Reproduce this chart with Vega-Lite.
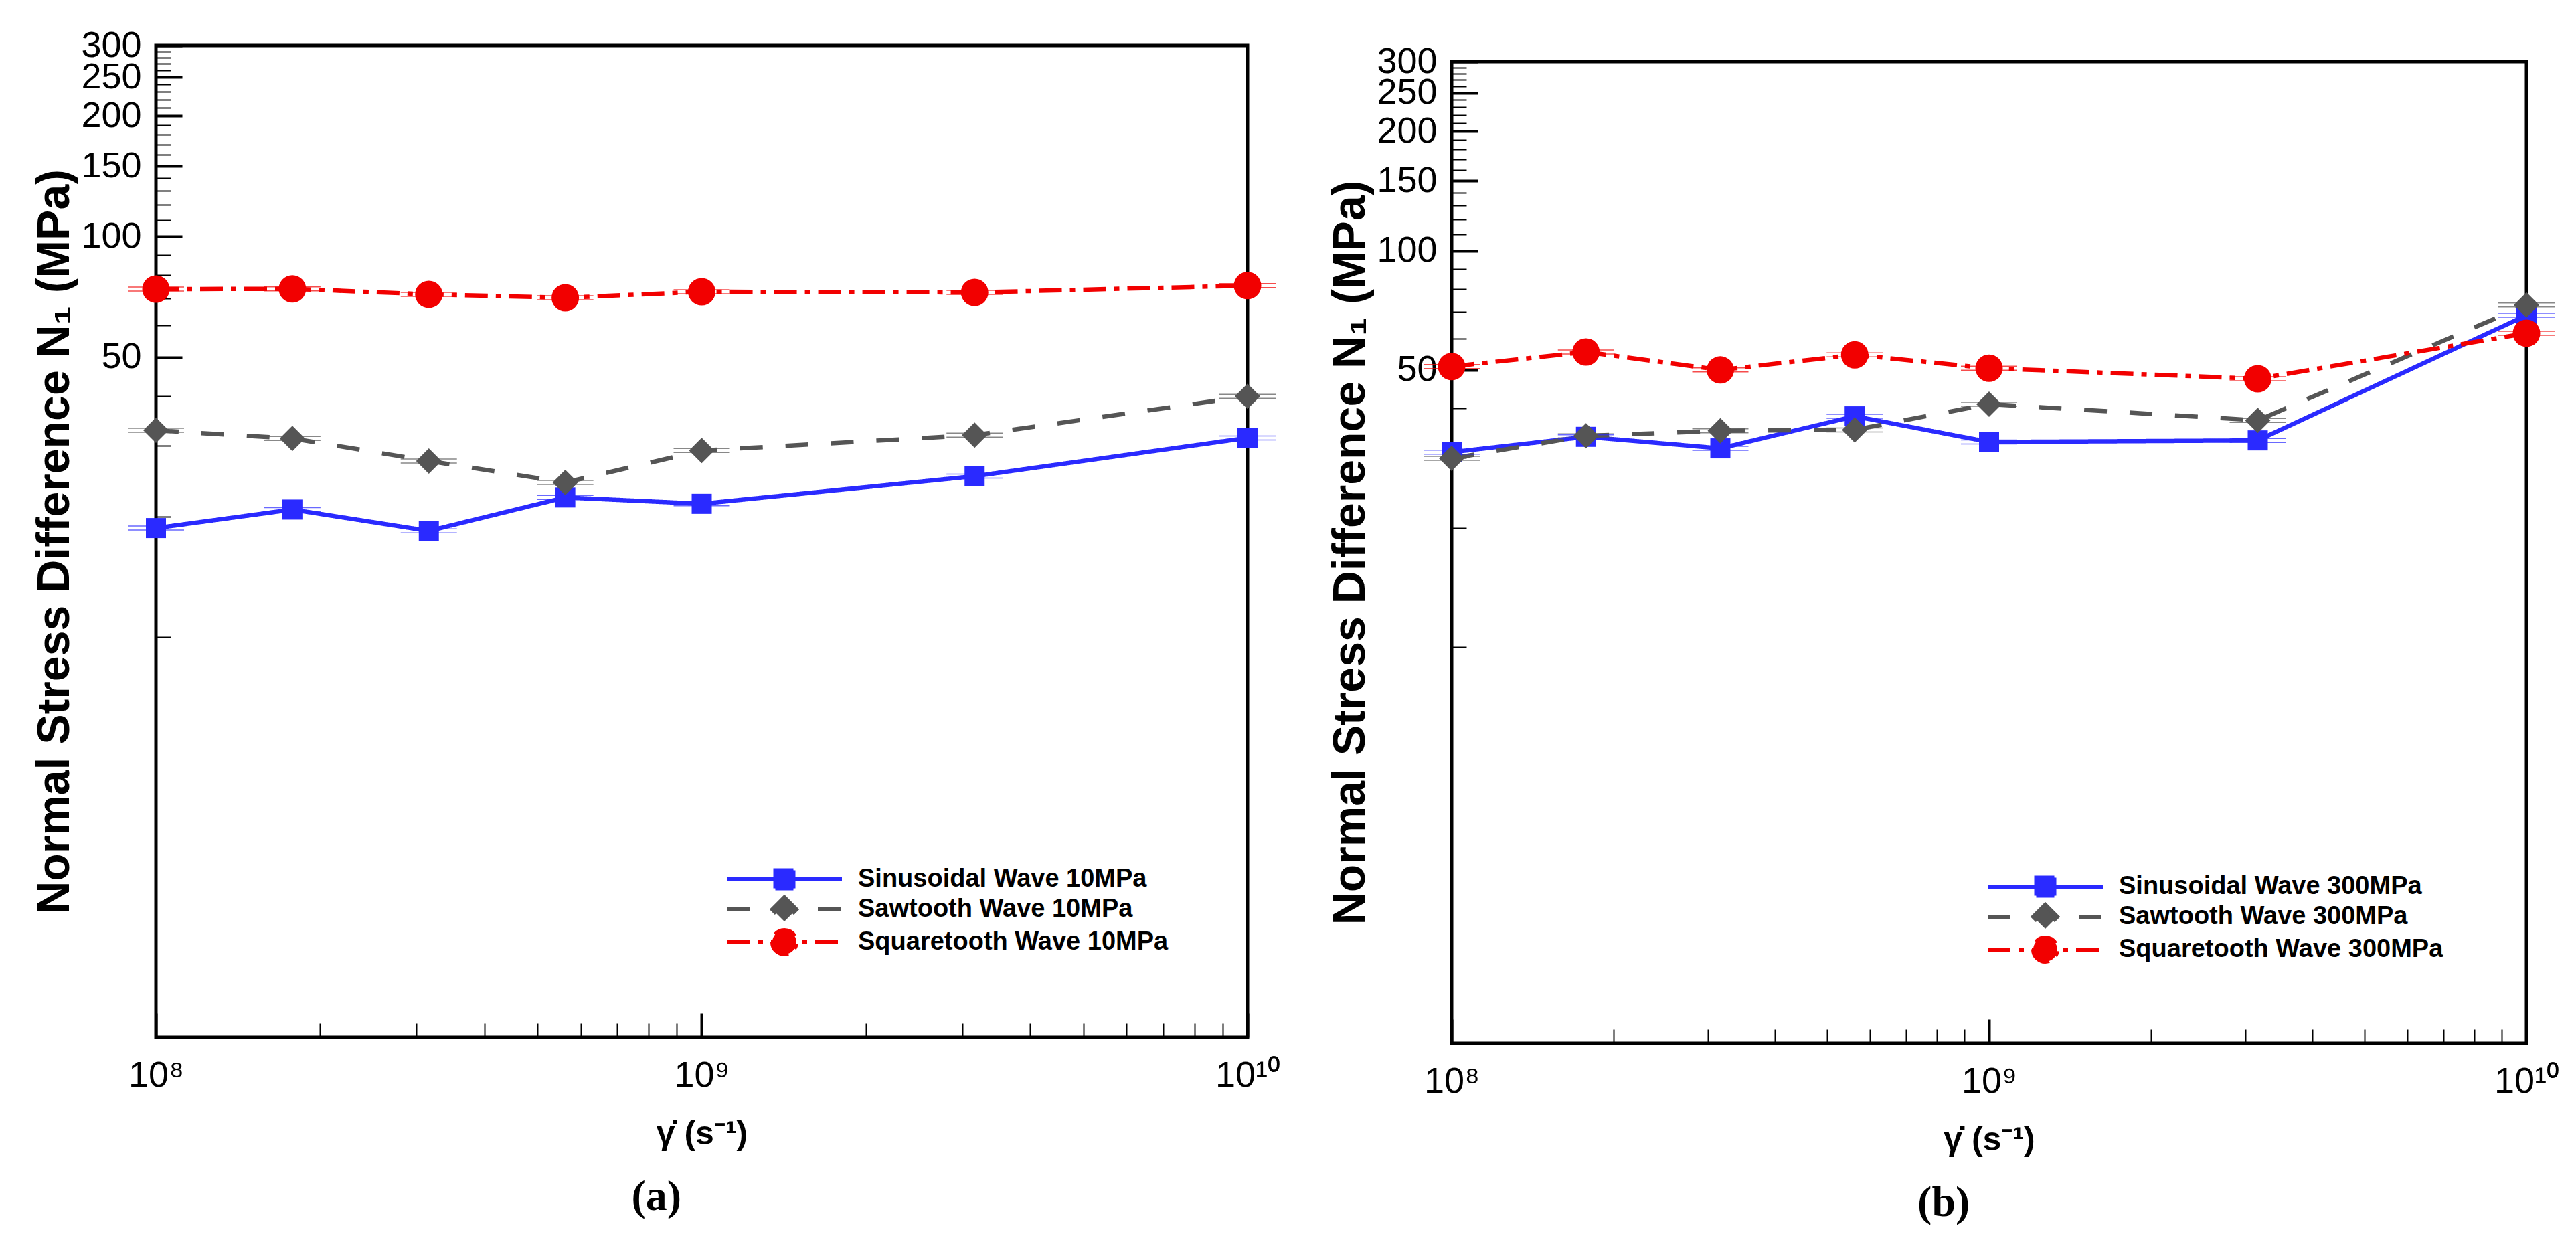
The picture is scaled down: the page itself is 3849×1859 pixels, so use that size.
{
  "$schema": "https://vega.github.io/schema/vega-lite/v6.json",
  "background": "white",
  "padding": {"left": 46, "top": 38, "right": 10, "bottom": 10},
  "spacing": 66,
  "config": {
    "font": "Liberation Sans",
    "view": {"stroke": "black", "strokeWidth": 5},
    "axis": {
      "grid": false,
      "domain": false,
      "tickColor": "black",
      "tickCap": "butt",
      "labelFont": "Liberation Sans",
      "labelFontSize": 54,
      "labelColor": "black",
      "labelOverlap": false,
      "labelFlush": false,
      "titleFont": "Liberation Sans",
      "titleFontWeight": "bold",
      "titleColor": "black"
    },
    "legend": {
      "orient": "none",
      "title": null,
      "padding": 0,
      "labelFont": "Liberation Sans",
      "labelFontSize": 38,
      "labelFontWeight": "bold",
      "labelColor": "black",
      "labelLimit": 1000,
      "labelOffset": 91,
      "rowPadding": -11,
      "symbolSize": 400,
      "symbolStrokeWidth": 6
    }
  },
  "datasets": {
    "panelA": [
      {"rate": 100000000, "series": "Sinusoidal Wave 10MPa", "n1": 18.7},
      {"rate": 177827941, "series": "Sinusoidal Wave 10MPa", "n1": 20.8},
      {"rate": 316227766, "series": "Sinusoidal Wave 10MPa", "n1": 18.4},
      {"rate": 562341325, "series": "Sinusoidal Wave 10MPa", "n1": 22.3},
      {"rate": 1000000000, "series": "Sinusoidal Wave 10MPa", "n1": 21.5},
      {"rate": 3162277660, "series": "Sinusoidal Wave 10MPa", "n1": 25.2},
      {"rate": 10000000000, "series": "Sinusoidal Wave 10MPa", "n1": 31.4},
      {"rate": 100000000, "series": "Sawtooth Wave 10MPa", "n1": 32.8},
      {"rate": 177827941, "series": "Sawtooth Wave 10MPa", "n1": 31.3},
      {"rate": 316227766, "series": "Sawtooth Wave 10MPa", "n1": 27.5},
      {"rate": 562341325, "series": "Sawtooth Wave 10MPa", "n1": 24.3},
      {"rate": 1000000000, "series": "Sawtooth Wave 10MPa", "n1": 29.2},
      {"rate": 3162277660, "series": "Sawtooth Wave 10MPa", "n1": 31.9},
      {"rate": 10000000000, "series": "Sawtooth Wave 10MPa", "n1": 39.9},
      {"rate": 100000000, "series": "Squaretooth Wave 10MPa", "n1": 73.9},
      {"rate": 177827941, "series": "Squaretooth Wave 10MPa", "n1": 74.0},
      {"rate": 316227766, "series": "Squaretooth Wave 10MPa", "n1": 71.7},
      {"rate": 562341325, "series": "Squaretooth Wave 10MPa", "n1": 70.3},
      {"rate": 1000000000, "series": "Squaretooth Wave 10MPa", "n1": 72.8},
      {"rate": 3162277660, "series": "Squaretooth Wave 10MPa", "n1": 72.5},
      {"rate": 10000000000, "series": "Squaretooth Wave 10MPa", "n1": 75.4}
    ],
    "panelB": [
      {"rate": 100000000, "series": "Sinusoidal Wave 300MPa", "n1": 31.0},
      {"rate": 177827941, "series": "Sinusoidal Wave 300MPa", "n1": 33.9},
      {"rate": 316227766, "series": "Sinusoidal Wave 300MPa", "n1": 31.7},
      {"rate": 562341325, "series": "Sinusoidal Wave 300MPa", "n1": 38.2},
      {"rate": 1000000000, "series": "Sinusoidal Wave 300MPa", "n1": 32.9},
      {"rate": 3162277660, "series": "Sinusoidal Wave 300MPa", "n1": 33.2},
      {"rate": 10000000000, "series": "Sinusoidal Wave 300MPa", "n1": 68.7},
      {"rate": 100000000, "series": "Sawtooth Wave 300MPa", "n1": 29.9},
      {"rate": 177827941, "series": "Sawtooth Wave 300MPa", "n1": 34.1},
      {"rate": 316227766, "series": "Sawtooth Wave 300MPa", "n1": 35.1},
      {"rate": 562341325, "series": "Sawtooth Wave 300MPa", "n1": 35.3},
      {"rate": 1000000000, "series": "Sawtooth Wave 300MPa", "n1": 41.0},
      {"rate": 3162277660, "series": "Sawtooth Wave 300MPa", "n1": 37.3},
      {"rate": 10000000000, "series": "Sawtooth Wave 300MPa", "n1": 72.9},
      {"rate": 100000000, "series": "Squaretooth Wave 300MPa", "n1": 51.0},
      {"rate": 177827941, "series": "Squaretooth Wave 300MPa", "n1": 55.5},
      {"rate": 316227766, "series": "Squaretooth Wave 300MPa", "n1": 50.0},
      {"rate": 562341325, "series": "Squaretooth Wave 300MPa", "n1": 54.6},
      {"rate": 1000000000, "series": "Squaretooth Wave 300MPa", "n1": 50.5},
      {"rate": 3162277660, "series": "Squaretooth Wave 300MPa", "n1": 47.5},
      {"rate": 10000000000, "series": "Squaretooth Wave 300MPa", "n1": 61.9}
    ]
  },
  "resolve": {
    "scale": {"x": "independent", "y": "independent", "color": "independent", "shape": "independent", "strokeDash": "independent"},
    "legend": {"color": "independent"}
  },
  "hconcat": [
    {
      "width": 1631,
      "height": 1482,
      "data": {"name": "panelA"},
      "title": {"text": "(a)", "orient": "bottom", "anchor": "middle", "frame": "bounds", "font": "Liberation Serif", "fontSize": 64, "fontWeight": "bold", "color": "black", "offset": 38},
      "encoding": {
        "x": {
          "field": "rate",
          "type": "quantitative",
          "scale": {"type": "log", "domain": [100000000, 10000000000], "nice": false},
          "axis": {
            "values": [100000000, 200000000, 300000000, 400000000, 500000000, 600000000, 700000000, 800000000, 900000000, 1000000000, 2000000000, 3000000000, 4000000000, 5000000000, 6000000000, 7000000000, 8000000000, 9000000000, 10000000000],
            "labelExpr": "datum.value === 100000000 ? '10⁸' : datum.value === 1000000000 ? '10⁹' : datum.value === 10000000000 ? '10¹⁰' : ''",
            "tickSize": {"condition": {"test": "datum.value === 100000000 || datum.value === 1000000000 || datum.value === 10000000000", "value": -36}, "value": -21},
            "tickWidth": {"condition": {"test": "datum.value === 100000000 || datum.value === 1000000000 || datum.value === 10000000000", "value": 4}, "value": 2},
            "labelPadding": 66,
            "title": "γ̇ (s⁻¹)",
            "titleFontSize": 50,
            "titlePadding": 20
          }
        },
        "y": {
          "field": "n1",
          "type": "quantitative",
          "scale": {"type": "log", "domain": [1, 300], "nice": false},
          "axis": {
            "values": [10, 20, 30, 40, 50, 60, 70, 80, 90, 100, 110, 120, 130, 140, 150, 160, 170, 180, 190, 200, 210, 220, 230, 240, 250, 260, 270, 280, 290, 300],
            "format": "d",
            "labelExpr": "datum.value % 50 === 0 ? datum.label : ''",
            "tickSize": {"condition": {"test": "datum.value % 50 === 0", "value": -39}, "value": -22},
            "tickWidth": {"condition": {"test": "datum.value % 50 === 0", "value": 4}, "value": 2},
            "labelPadding": 61,
            "title": "Normal Stress Difference N₁ (MPa)",
            "titleFontSize": 68,
            "titlePadding": 4
          }
        },
        "color": {
          "field": "series",
          "type": "nominal",
          "scale": {"domain": ["Sinusoidal Wave 10MPa", "Sawtooth Wave 10MPa", "Squaretooth Wave 10MPa"], "range": ["#2a2aff", "#555555", "#f20000"]},
          "legend": {
            "legendX": 920,
            "legendY": 1227,
            "encode": {
              "symbols": {
                "update": {
                  "shape": {"signal": "test(/Sinus/, datum.value) ? 'M-8.6,0L8.6,0M-1.35,-1.35L1.35,-1.35L1.35,1.35L-1.35,1.35Z' : test(/Saw/, datum.value) ? 'M-8.6,0L8.6,0M0,-1.8L1.8,0L0,1.8L-1.8,0Z' : 'M-8.6,0L8.6,0M-1.8,0A1.8,1.8,0,1,0,1.8,0A1.8,1.8,0,1,0,-1.8,0Z'"},
                  "stroke": {"signal": "test(/Sinus/, datum.value) ? '#2a2aff' : test(/Saw/, datum.value) ? '#555555' : '#f20000'"},
                  "fill": {"signal": "test(/Sinus/, datum.value) ? '#2a2aff' : test(/Saw/, datum.value) ? '#555555' : '#f20000'"},
                  "strokeDash": {"signal": "test(/Saw/, datum.value) ? [34, 34] : test(/Square/, datum.value) ? [34, 12, 8, 12] : [1, 0]"},
                  "strokeWidth": {"value": 6},
                  "size": {"value": 400},
                  "opacity": {"value": 1},
                  "fillOpacity": {"value": 1},
                  "strokeOpacity": {"value": 1}
                }
              }
            }
          }
        }
      },
      "layer": [
        {
          "mark": {"type": "line", "strokeWidth": 6.5},
          "encoding": {
            "strokeDash": {
              "field": "series",
              "type": "nominal",
              "scale": {"domain": ["Sinusoidal Wave 10MPa", "Sawtooth Wave 10MPa", "Squaretooth Wave 10MPa"], "range": [[1, 0], [34, 34], [34, 12, 8, 12]]},
              "legend": null
            }
          }
        },
        {"mark": {"type": "tick", "orient": "horizontal", "size": 84, "thickness": 1.5, "yOffset": -3}},
        {"mark": {"type": "tick", "orient": "horizontal", "size": 84, "thickness": 1.5, "yOffset": 3}},
        {
          "mark": {"type": "point", "filled": true, "opacity": 1, "strokeWidth": 0},
          "encoding": {
            "shape": {
              "field": "series",
              "type": "nominal",
              "scale": {"domain": ["Squaretooth Wave 10MPa", "Sinusoidal Wave 10MPa", "Sawtooth Wave 10MPa"], "range": ["circle", "square", "diamond"]},
              "legend": null
            },
            "size": {
              "condition": [
                {"test": "test(/Sinus/, datum.series)", "value": 900},
                {"test": "test(/Saw/, datum.series)", "value": 1444}
              ],
              "value": 1681
            }
          }
        }
      ]
    },
    {
      "bounds": "flush",
      "spacing": 20,
      "resolve": {
        "scale": {"x": "independent", "y": "independent", "color": "independent", "shape": "independent", "strokeDash": "independent"},
        "legend": {"color": "independent"}
      },
      "vconcat": [
        {
          "width": 1606,
          "height": 4,
          "view": {"stroke": null},
          "data": {"values": []},
          "mark": {"type": "point", "opacity": 0}
        },
        {
          "width": 1606,
          "height": 1467,
          "data": {"name": "panelB"},
          "title": {"text": "(b)", "orient": "bottom", "anchor": "middle", "frame": "bounds", "font": "Liberation Serif", "fontSize": 64, "fontWeight": "bold", "color": "black", "offset": 38},
          "encoding": {
            "x": {
              "field": "rate",
              "type": "quantitative",
              "scale": {"type": "log", "domain": [100000000, 10000000000], "nice": false},
              "axis": {
                "values": [100000000, 200000000, 300000000, 400000000, 500000000, 600000000, 700000000, 800000000, 900000000, 1000000000, 2000000000, 3000000000, 4000000000, 5000000000, 6000000000, 7000000000, 8000000000, 9000000000, 10000000000],
                "labelExpr": "datum.value === 100000000 ? '10⁸' : datum.value === 1000000000 ? '10⁹' : datum.value === 10000000000 ? '10¹⁰' : ''",
                "tickSize": {"condition": {"test": "datum.value === 100000000 || datum.value === 1000000000 || datum.value === 10000000000", "value": -36}, "value": -21},
                "tickWidth": {"condition": {"test": "datum.value === 100000000 || datum.value === 1000000000 || datum.value === 10000000000", "value": 4}, "value": 2},
                "labelPadding": 66,
                "title": "γ̇ (s⁻¹)",
                "titleFontSize": 50,
                "titlePadding": 20
              }
            },
            "y": {
              "field": "n1",
              "type": "quantitative",
              "scale": {"type": "log", "domain": [1, 300], "nice": false},
              "axis": {
                "values": [10, 20, 30, 40, 50, 60, 70, 80, 90, 100, 110, 120, 130, 140, 150, 160, 170, 180, 190, 200, 210, 220, 230, 240, 250, 260, 270, 280, 290, 300],
                "format": "d",
                "labelExpr": "datum.value % 50 === 0 ? datum.label : ''",
                "tickSize": {"condition": {"test": "datum.value % 50 === 0", "value": -39}, "value": -22},
                "tickWidth": {"condition": {"test": "datum.value % 50 === 0", "value": 4}, "value": 2},
                "labelPadding": 61,
                "title": "Normal Stress Difference N₁ (MPa)",
                "titleFontSize": 68,
                "titlePadding": 4
              }
            },
            "color": {
              "field": "series",
              "type": "nominal",
              "scale": {"domain": ["Sinusoidal Wave 300MPa", "Sawtooth Wave 300MPa", "Squaretooth Wave 300MPa"], "range": ["#2a2aff", "#555555", "#f20000"]},
              "legend": {
                "legendX": 868,
                "legendY": 1214,
                "encode": {
                  "symbols": {
                    "update": {
                      "shape": {"signal": "test(/Sinus/, datum.value) ? 'M-8.6,0L8.6,0M-1.35,-1.35L1.35,-1.35L1.35,1.35L-1.35,1.35Z' : test(/Saw/, datum.value) ? 'M-8.6,0L8.6,0M0,-1.8L1.8,0L0,1.8L-1.8,0Z' : 'M-8.6,0L8.6,0M-1.8,0A1.8,1.8,0,1,0,1.8,0A1.8,1.8,0,1,0,-1.8,0Z'"},
                      "stroke": {"signal": "test(/Sinus/, datum.value) ? '#2a2aff' : test(/Saw/, datum.value) ? '#555555' : '#f20000'"},
                      "fill": {"signal": "test(/Sinus/, datum.value) ? '#2a2aff' : test(/Saw/, datum.value) ? '#555555' : '#f20000'"},
                      "strokeDash": {"signal": "test(/Saw/, datum.value) ? [34, 34] : test(/Square/, datum.value) ? [34, 12, 8, 12] : [1, 0]"},
                      "strokeWidth": {"value": 6},
                      "size": {"value": 400},
                      "opacity": {"value": 1},
                      "fillOpacity": {"value": 1},
                      "strokeOpacity": {"value": 1}
                    }
                  }
                }
              }
            }
          },
          "layer": [
            {
              "mark": {"type": "line", "strokeWidth": 6.5},
              "encoding": {
                "strokeDash": {
                  "field": "series",
                  "type": "nominal",
                  "scale": {"domain": ["Sinusoidal Wave 300MPa", "Sawtooth Wave 300MPa", "Squaretooth Wave 300MPa"], "range": [[1, 0], [34, 34], [34, 12, 8, 12]]},
                  "legend": null
                }
              }
            },
            {"mark": {"type": "tick", "orient": "horizontal", "size": 84, "thickness": 1.5, "yOffset": -3}},
            {"mark": {"type": "tick", "orient": "horizontal", "size": 84, "thickness": 1.5, "yOffset": 3}},
            {
              "mark": {"type": "point", "filled": true, "opacity": 1, "strokeWidth": 0},
              "encoding": {
                "shape": {
                  "field": "series",
                  "type": "nominal",
                  "scale": {"domain": ["Squaretooth Wave 300MPa", "Sinusoidal Wave 300MPa", "Sawtooth Wave 300MPa"], "range": ["circle", "square", "diamond"]},
                  "legend": null
                },
                "size": {
                  "condition": [
                    {"test": "test(/Sinus/, datum.series)", "value": 900},
                    {"test": "test(/Saw/, datum.series)", "value": 1444}
                  ],
                  "value": 1681
                }
              }
            }
          ]
        }
      ]
    }
  ]
}
